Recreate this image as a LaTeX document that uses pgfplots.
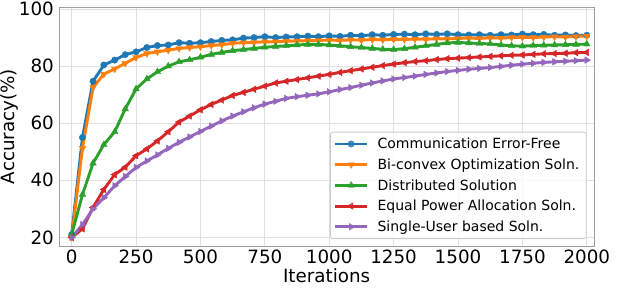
\documentclass[border=0pt]{standalone}
\usepackage{fontspec}
\setmainfont{DejaVu Sans}
\usepackage{pgfplots}
\usepackage{pgfplotstable}
\pgfplotsset{compat=1.18}
\definecolor{tabblue}{HTML}{1F77B4}
\definecolor{taborange}{HTML}{FF7F0E}
\definecolor{tabgreen}{HTML}{2CA02C}
\definecolor{tabred}{HTML}{D62728}
\definecolor{tabpurple}{HTML}{9467BD}
\pgfplotstableread{
x b o g r p
0 21 20 21 20 20
42 55 51.2 35 23 24.5
83 74.7 72.5 46 30.5 30
125 80.4 77.2 52.5 36.8 33.9
167 82.1 79 57 42 38.1
208 84 81 65 44.6 41.3
250 85 83 72 48.6 44.5
292 86.5 84.4 75.5 51 46.8
333 87.2 85 78 53.8 48.9
375 87.4 85.6 80 57 51.2
417 88.2 86.2 81.5 60.4 53.3
458 88 86.5 82.2 62.5 55.2
500 88.2 86.8 83.1 64.7 57.1
542 88.6 87.2 84.1 66.6 59
583 89 87.5 84.8 68.1 60.8
625 89.2 88 85.4 69.7 62.5
667 89.8 88.2 85.8 70.8 64
708 90 88.3 86.2 71.9 65.4
750 90.3 88.5 86.6 73 66.7
792 90 88.5 86.9 74.1 67.7
833 90.2 88.7 87.1 74.7 68.7
875 90.3 88.8 87.4 75.3 69.3
917 90.5 88.9 87.6 75.9 69.8
958 90.3 89 87.6 76.5 70.3
1000 90.6 89.1 87.4 77.1 71
1042 90.4 89 87.1 77.8 71.8
1083 90.8 89.2 86.8 78.4 72.5
1125 90.6 89.1 86.5 79 73.3
1167 91 89.3 86.2 79.6 74.1
1208 90.8 89.2 85.9 80.2 74.8
1250 91.1 89.4 85.8 80.7 75.5
1292 91.2 89.3 86.1 81.2 76
1333 91 89.5 86.6 81.6 76.5
1375 91.3 89.4 87.1 81.9 77.1
1417 91.1 89.6 87.6 82.3 77.6
1458 91.3 89.5 88.1 82.6 78.1
1500 91 89.7 88.3 82.8 78.5
1542 90.9 89.8 88.1 83 78.9
1583 91 89.7 87.9 83.2 79.2
1625 90.8 89.9 87.8 83.4 79.5
1667 91 89.8 87.4 83.6 79.9
1708 90.9 90 87.1 83.8 80.3
1750 91.2 90.1 87 83.9 80.7
1792 91 90 87.2 84.1 81
1833 91.1 90.2 87.3 84.3 81.3
1875 90.8 90.3 87.4 84.4 81.5
1917 90.9 90.2 87.5 84.5 81.7
1958 90.7 90.4 87.6 84.7 81.9
2000 90.8 90.5 87.7 84.8 82.1
}\datatab
\begin{document}
\begin{tikzpicture}
\begin{axis}[
  at={(59.3pt,60pt)}, anchor=south west,
  width=534.7pt, height=239pt, scale only axis,
  xmin=-48, xmax=2028, ymin=17, ymax=100.7,
  xtick={0,250,...,2000}, ytick={20,40,...,100},
  grid=major, grid style={draw=black!12, line width=0.8pt},
  axis line style={draw=black!38, line width=0.9pt},
  major tick length=0pt,
  tick label style={font=\fontsize{18.3}{20}\selectfont},
  /pgf/number format/assume math mode=true,
  /pgf/number format/1000 sep={},
  xticklabel style={inner sep=0pt, anchor=north, yshift=-4pt},
  yticklabel style={inner sep=0pt, anchor=east, xshift=-5.3pt},
  xlabel={Iterations}, ylabel={Accuracy(\%)},
  label style={font=\fontsize{18.3}{20}\selectfont},
  xlabel style={at={(axis description cs:0.5,-0.1548)}, anchor=base, inner sep=0pt},
  ylabel style={at={(axis description cs:-0.0829,0.5)}, anchor=base, inner sep=0pt},
  legend style={at={(axis description cs:0.9864,0.4782)}, anchor=north east,
    draw=black!20, line width=0.8pt, rounded corners=2.5pt, fill=white, fill opacity=0.8, text opacity=1,
    inner xsep=0pt, inner ysep=1.5pt, font=\fontsize{14}{16}\selectfont, row sep=0pt,
    nodes={inner xsep=7pt, inner ysep=0pt, text height=15pt, text depth=5.7pt}},
  legend cell align=left,
  legend image code/.code={
    \path (-3.3pt,0pt) (34pt,0pt);
    \draw[mark repeat=2,mark phase=2,#1] plot coordinates {(0pt,0pt) (16pt,0pt) (32pt,0pt)};
  },
  every axis plot/.append style={line width=2.9pt},
]
\addplot[tabblue, mark=*, mark size=3.2pt, mark options={line width=0.4pt, fill=tabblue}] table[x=x,y=b]{\datatab};
\addlegendentry{Communication Error-Free}
\addplot[taborange, mark=triangle*, mark size=3.8pt, mark options={line width=0.4pt, fill=taborange, rotate=180}] table[x=x,y=o]{\datatab};
\addlegendentry{Bi-convex Optimization Soln.}
\addplot[tabgreen, mark=triangle*, mark size=3.8pt, mark options={line width=0.4pt, fill=tabgreen}] table[x=x,y=g]{\datatab};
\addlegendentry{Distributed Solution}
\addplot[tabred, mark=triangle*, mark size=3.8pt, mark options={line width=0.4pt, fill=tabred, rotate=90}] table[x=x,y=r]{\datatab};
\addlegendentry{Equal Power Allocation Soln.}
\addplot[tabpurple, mark=triangle*, mark size=3.8pt, mark options={line width=0.4pt, fill=tabpurple, rotate=-90}] table[x=x,y=p]{\datatab};
\addlegendentry{Single-User based Soln.}
\end{axis}
\pgfresetboundingbox
\useasboundingbox (0,0) rectangle (640pt,306pt);
\end{tikzpicture}
\end{document}
